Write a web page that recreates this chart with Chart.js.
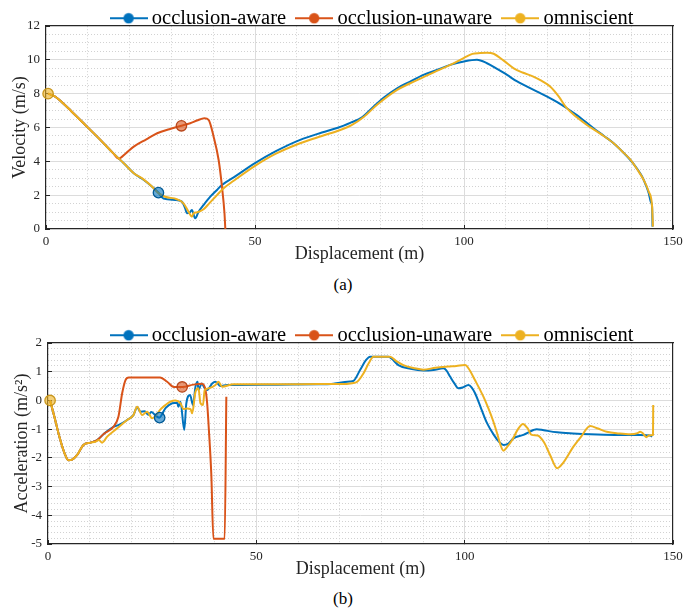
<!DOCTYPE html>
<html>
<head>
<meta charset="utf-8">
<script src="https://cdn.jsdelivr.net/npm/chart.js@4"></script>
<style>
  body { margin: 0; background: #fff; width: 686px; height: 612px; position: relative; overflow: hidden; font-family: "Liberation Serif", serif; }
  .box { position: absolute; left: 0; width: 686px; }
  .cap { position: absolute; left: 0; width: 686px; text-align: center; font-size: 17px; color: #000; line-height: 20px; }
</style>
</head>
<body>
<div class="box" style="top:0;height:265px"><canvas id="velChart"></canvas></div>
<div class="cap" style="top:275px">(a)</div>
<div class="box" style="top:317px;height:263px"><canvas id="accChart"></canvas></div>
<div class="cap" style="top:589px">(b)</div>
<script>
const FONT = 'Liberation Serif';
const BLUE = '#0072BD', ORANGE = '#D95319', YELLOW = '#EDB120';
const seriesNames = ['occlusion-aware', 'occlusion-unaware', 'omniscient'];

// ---- velocity vs displacement ----
const velAwareX = [0.5,2,4,6,9,13,16,18.6,21,23.4,25.4,26.9,28.1,30.9,32.5,33.3,33.7,34.3,34.9,35.7,36.5,37.7,39.3,40.9,42.1,44.9,50,55,60.8,66,70,73,75.5,78.4,81,84,87,90.3,93.5,96.7,100,103.1,105.5,108,110.3,112.5,115.1,117.5,119.9,122.3,124.6,127,129,131,133.5,135.8,137.8,139.8,141.3,142.6,143.5,144.2,144.7,145,145.1];
const velAwareY = [8,7.85,7.45,6.98,6.25,5.27,4.5,3.89,3.3,2.9,2.5,2.15,1.8,1.72,1.62,1.22,0.93,0.95,1.12,0.63,1.02,1.42,1.91,2.31,2.6,3.05,3.89,4.6,5.27,5.7,6.0,6.3,6.58,7.24,7.8,8.32,8.7,9.11,9.4,9.7,9.9,10.0,9.8,9.45,9.11,8.75,8.42,8.12,7.83,7.5,7.14,6.73,6.35,5.96,5.5,5.07,4.6,4.08,3.6,3.1,2.6,2.11,1.6,1.32,0.14];
const velUnawareX = [0.5,2,4,6,9,13,16,17.4,19,21,24,26.6,29.5,32.4,34.5,36.1,37.9,38.9,40.1,41.3,42.1,42.7,42.9];
const velUnawareY = [8,7.85,7.45,6.98,6.25,5.27,4.5,4.16,4.45,4.87,5.3,5.66,5.9,6.1,6.25,6.41,6.55,6.45,5.46,4.08,2.5,0.93,0];
const velOmniX = [0.5,2,4,6,9,13,16,18.6,21,23.4,25.4,26.9,28.5,31.3,32.9,34.1,34.9,35.3,36,37.7,39,40.9,42.5,44.9,50,55,60.8,66,70.4,73,76,79.2,84,87,90.3,93.5,96.7,99.9,102,103.9,105.5,107.1,109.5,111.9,114,116.6,118.6,120.6,122.6,124.6,127,129.4,132.5,135.8,137.8,139.8,141.5,143,144.2,145,145.2];
const velOmniY = [8,7.85,7.45,6.98,6.25,5.27,4.5,3.89,3.3,2.92,2.5,2.12,1.91,1.76,1.52,1.02,0.73,0.93,0.98,1.17,1.5,2.0,2.41,2.85,3.73,4.45,5.07,5.5,5.85,6.12,6.62,7.34,8.22,8.6,8.98,9.35,9.7,10.1,10.35,10.4,10.42,10.36,9.95,9.5,9.25,9.01,8.75,8.42,7.85,7.14,6.6,6.15,5.65,5.07,4.6,4.1,3.5,2.9,2.2,1.32,0.14];
const velMarkX = [26.9, 32.4, 0.5];
const velMarkY = [2.15, 6.1, 8.0];

// ---- acceleration vs displacement ----
const accAwareX = [0.5,1.5,2.8,4,4.9,5.8,7,8.5,10.2,11.8,13.5,15.7,17,19,20.5,21.4,22.2,23.2,24.1,24.8,25.7,26.7,28.2,29.8,31,31.3,31.8,32.7,33.2,34.1,34.8,35.4,35.9,36.1,36.9,37.5,38.2,39.4,40.2,41.4,43,46,55,65,68,70,72.5,73.3,74.9,76.3,77.3,81.7,82.5,84.1,87,90.1,92.5,94.9,95.6,96.5,97.5,98.5,99.5,100.9,101.7,102.5,104,105.4,107,108.3,109.3,110.5,111.7,114.1,116.5,117.3,119,122.2,126,130.1,136,142.1,144.5,145];
const accAwareY = [0,-0.55,-1.3,-1.85,-2.08,-2.06,-1.9,-1.55,-1.47,-1.38,-1.15,-0.92,-0.85,-0.68,-0.51,-0.24,-0.39,-0.38,-0.5,-0.4,-0.51,-0.6,-0.27,-0.1,-0.08,-0.22,-0.05,-1.03,-0.1,0.19,-0.16,0.48,0.65,0.36,0.59,0.45,0.36,0.59,0.65,0.5,0.54,0.54,0.55,0.56,0.57,0.62,0.66,0.68,1.06,1.4,1.52,1.52,1.45,1.23,1.1,1.04,1.06,1.12,1.05,0.83,0.6,0.42,0.45,0.54,0.45,0.25,-0.3,-0.8,-1.2,-1.45,-1.55,-1.5,-1.32,-1.2,-1.03,-1.0,-1.04,-1.11,-1.15,-1.18,-1.2,-1.2,-1.22,-1.26];
const accUnawareX = [0.5,1.5,2.8,4,4.9,5.8,7,8.5,10.2,11.8,13.5,15.7,16.9,17.8,18.6,19.4,22,26.9,28.6,30.2,32.2,34.9,37,37.8,38.2,38.6,39.2,39.7,42.4,42.8];
const accUnawareY = [0,-0.55,-1.3,-1.85,-2.08,-2.06,-1.9,-1.55,-1.47,-1.38,-1.15,-0.92,-0.57,0.25,0.71,0.8,0.8,0.8,0.65,0.47,0.47,0.55,0.58,0.36,-0.1,-1.0,-2.6,-4.82,-4.82,0.13];
const accOmniX = [0.5,1.5,2.8,4,4.9,5.8,7,8.5,10.2,11.4,12.2,13,14.2,16.6,19,20.5,21.4,22.6,23.8,25,27.2,29.4,30.6,31.8,32.5,33.4,34.2,34.6,35.4,36.1,36.6,37.2,37.6,38.5,40.2,40.9,41.8,44.5,55,65,70,73,74.2,75.7,77,78.1,82.1,83.5,85.3,88,90.1,93,96,98,100.1,100.9,102.5,104.5,105.7,106.8,107.8,108.6,109.3,110.2,111.4,112.8,114,115,116.1,117.5,119,120.5,122.2,123.5,126.1,128,130.1,132,134.1,137,139.7,141.5,142.1,142.8,143.6,144.2,145.2,145.25];
const accOmniY = [0,-0.55,-1.3,-1.85,-2.08,-2.06,-1.9,-1.55,-1.47,-1.44,-1.38,-1.47,-1.26,-0.97,-0.68,-0.51,-0.22,-0.51,-0.39,-0.62,-0.28,-0.04,0,-0.1,-0.3,-0.28,-0.3,-0.45,0.3,0.42,-0.1,-0.16,0.36,0.42,0.54,0.65,0.48,0.56,0.56,0.57,0.57,0.6,0.65,0.94,1.3,1.52,1.52,1.38,1.23,1.12,1.07,1.14,1.18,1.2,1.23,1.12,0.7,0.13,-0.28,-0.7,-1.15,-1.55,-1.75,-1.62,-1.38,-1.0,-0.82,-0.95,-1.2,-1.22,-1.45,-1.9,-2.36,-2.2,-1.61,-1.25,-0.89,-0.98,-1.09,-1.15,-1.18,-1.14,-1.09,-1.15,-1.28,-1.22,-1.2,-0.16];
const accMarkX = [26.8, 32.2, 0.5];
const accMarkY = [-0.6, 0.47, 0];

function pts(xs, ys) { return xs.map((x, i) => ({ x: x, y: ys[i] })); }

function onStep(v, step) { const r = v / step; return Math.abs(r - Math.round(r)) < 1e-6; }

// little line-with-dot picture used as legend symbol
function legendIcon(color) {
  const c = document.createElement('canvas');
  c.width = 38; c.height = 14;
  const g = c.getContext('2d');
  g.strokeStyle = color; g.lineWidth = 2;
  g.beginPath(); g.moveTo(0, 7); g.lineTo(38, 7); g.stroke();
  g.fillStyle = color;
  g.beginPath(); g.arc(19, 7, 5.2, 0, Math.PI * 2); g.fill();
  return c;
}
const icons = [legendIcon(BLUE), legendIcon(ORANGE), legendIcon(YELLOW)];

function lineSet(label, data, color, order) {
  return {
    label: label, data: data, borderColor: color, backgroundColor: color,
    borderWidth: 2, pointRadius: 0, fill: false, order: order,
    cubicInterpolationMode: 'monotone'
  };
}

function makeChart(id, opt) {
  const legendTweak = {
    id: 'legendTweak',
    beforeLayout(chart) {
      const lg = chart.legend;
      if (lg && !lg._patched) {
        const fit = lg.fit;
        lg.fit = function () { fit.call(this); this.height = 26; };
        lg._patched = true;
      }
    },
    afterLayout(chart) {
      // nudge the legend up/right so it sits on the top edge like the figure
      const lg = chart.legend;
      lg.left += opt.legendDx; lg.right += opt.legendDx;
      lg.top -= 7; lg.bottom = lg.top + 45;
    }
  };

  const tickFont = { family: FONT, size: 13 };
  const titleFont = { family: FONT, size: 18 };
  const minorColor = '#d2d2d2';
  const axisColor = '#262626';

  return new Chart(document.getElementById(id), {
    type: 'line',
    data: {
      datasets: [
        lineSet(seriesNames[0], opt.aware, BLUE, 3),
        lineSet(seriesNames[1], opt.unaware, ORANGE, 2),
        lineSet(seriesNames[2], opt.omni, YELLOW, 1),
        {
          label: 'markers', data: opt.marks, showLine: false, order: 0, clip: false,
          pointRadius: 5.2, pointBorderWidth: 1.3,
          pointBackgroundColor: ['rgba(0,114,189,0.6)', 'rgba(217,83,25,0.6)', 'rgba(237,177,32,0.6)'],
          pointBorderColor: ['#005a96', '#b8461a', '#c9961b']
        }
      ]
    },
    options: {
      responsive: true,
      maintainAspectRatio: false,
      animation: false,
      events: [],
      layout: { padding: { left: 0, right: 13, top: 0, bottom: 0 } },
      plugins: {
        tooltip: { enabled: false },
        legend: {
          position: 'top',
          fullSize: false,
          labels: {
            usePointStyle: true,
            pointStyleWidth: 26,
            padding: 15,
            color: '#000',
            font: { family: FONT, size: 20.5 },
            filter: item => item.datasetIndex < 3,
            sort: (a, b) => a.datasetIndex - b.datasetIndex,
            generateLabels(chart) {
              const items = Chart.defaults.plugins.legend.labels.generateLabels(chart);
              items.forEach(it => { if (it.datasetIndex < 3) it.pointStyle = icons[it.datasetIndex]; });
              return items;
            }
          }
        }
      },
      scales: {
        x: {
          type: 'linear', position: 'bottom', min: 0, max: 150,
          ticks: { stepSize: 50, padding: 9, color: axisColor, font: tickFont, maxRotation: 0 },
          grid: {
            drawTicks: true, tickLength: -4, tickColor: axisColor, tickWidth: 1, lineWidth: 1,
            color: c => (c.tick && (c.tick.value === 0 || c.tick.value === 150)) ? 'rgba(0,0,0,0)' : '#dcdcdc'
          },
          border: { color: axisColor, width: 1.2 },
          title: { display: true, text: 'Displacement (m)', color: axisColor, font: titleFont, padding: { top: 0, bottom: 0 } },
          afterFit(s) { s.height = 36; s.paddingLeft = 0; s.paddingRight = 0; }
        },
        y: {
          type: 'linear', position: 'left', min: opt.yMin, max: opt.yMax,
          ticks: { stepSize: opt.yStep, padding: 10, color: axisColor, font: tickFont },
          grid: {
            drawTicks: true, tickLength: -4, tickColor: axisColor, tickWidth: 1, lineWidth: 1,
            color: c => (c.tick && (c.tick.value === opt.yMin || c.tick.value === opt.yMax)) ? 'rgba(0,0,0,0)' : '#dcdcdc'
          },
          border: { color: axisColor, width: 1.2 },
          title: { display: true, text: opt.yTitle, color: axisColor, font: titleFont, padding: { top: opt.yTitlePad, bottom: 0 } },
          afterFit(s) { s.width = opt.yWidth; s.paddingTop = 0; s.paddingBottom = 0; }
        },
        xMinor: {
          type: 'linear', position: 'top', min: 0, max: 150,
          ticks: { display: false, stepSize: 10 },
          grid: { drawTicks: false, lineWidth: 1, color: c => (c.tick && onStep(c.tick.value, 50)) ? 'rgba(0,0,0,0)' : minorColor },
          border: { display: true, color: axisColor, width: 1.2, dash: [1, 2] },
          afterFit(s) { s.height = 0; s.paddingLeft = 0; s.paddingRight = 0; }
        },
        yMinor: {
          type: 'linear', position: 'right', min: opt.yMin, max: opt.yMax,
          ticks: { display: false, stepSize: opt.yMinorStep },
          grid: { drawTicks: false, lineWidth: 1, color: c => (c.tick && onStep(c.tick.value, opt.yStep)) ? 'rgba(0,0,0,0)' : minorColor },
          border: { display: true, color: axisColor, width: 1.2, dash: [1, 2] },
          afterFit(s) { s.width = 0; s.paddingTop = 0; s.paddingBottom = 0; }
        }
      }
    },
    plugins: [legendTweak]
  });
}

makeChart('velChart', {
  aware: pts(velAwareX, velAwareY),
  unaware: pts(velUnawareX, velUnawareY),
  omni: pts(velOmniX, velOmniY),
  marks: pts(velMarkX, velMarkY),
  yMin: 0, yMax: 12, yStep: 2, yMinorStep: 0.5,
  yTitle: 'Velocity (m/s)', yTitlePad: 9, yWidth: 46, legendDx: 15
});

makeChart('accChart', {
  aware: pts(accAwareX, accAwareY),
  unaware: pts(accUnawareX, accUnawareY),
  omni: pts(accOmniX, accOmniY),
  marks: pts(accMarkX, accMarkY),
  yMin: -5, yMax: 2, yStep: 1, yMinorStep: 0.2,
  yTitle: 'Acceleration (m/s\u00B2)', yTitlePad: 11, yWidth: 48, legendDx: 14
});
</script>
</body>
</html>
